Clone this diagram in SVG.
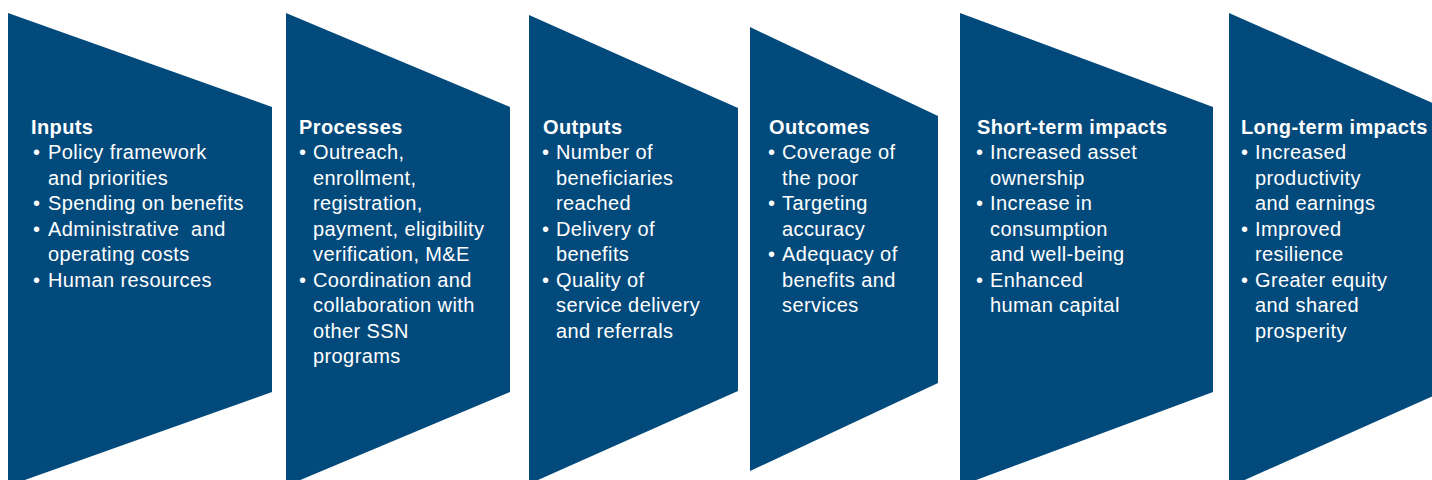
<svg xmlns="http://www.w3.org/2000/svg" width="1432" height="480" viewBox="0 0 1432 480">
<style>
.sh{fill:#034a7c}
text{font-family:"Liberation Sans",Arial,sans-serif;font-size:20px;letter-spacing:0.4px;fill:#ffffff}
.t{font-weight:bold}
</style>
<rect width="1432" height="480" fill="#ffffff"/>
<g id="inputs">
<polygon class="sh" points="8,13 272,107 272,392 8,486"/>
<text class="t" x="31" y="134">Inputs</text>
<text x="33" y="159">•</text><text x="48" y="159">Policy framework</text>
<text x="48" y="184.5">and priorities</text>
<text x="33" y="210">•</text><text x="48" y="210">Spending on benefits</text>
<text x="33" y="235.5">•</text><text x="48" y="235.5" xml:space="preserve">Administrative  and</text>
<text x="48" y="261">operating costs</text>
<text x="33" y="286.5">•</text><text x="48" y="286.5">Human resources</text>
</g>
<g id="processes">
<polygon class="sh" points="286,13 510,107 510,392 286,486"/>
<text class="t" x="299" y="134">Processes</text>
<text x="299" y="159">•</text><text x="313" y="159">Outreach,</text>
<text x="313" y="184.5">enrollment,</text>
<text x="313" y="210">registration,</text>
<text x="313" y="235.5">payment, eligibility</text>
<text x="313" y="261">verification, M&amp;E</text>
<text x="299" y="286.5">•</text><text x="313" y="286.5">Coordination and</text>
<text x="313" y="312">collaboration with</text>
<text x="313" y="337.5">other SSN</text>
<text x="313" y="363">programs</text>
</g>
<g id="outputs">
<polygon class="sh" points="529,15 738,108 738,391 529,484"/>
<text class="t" x="543" y="134">Outputs</text>
<text x="542" y="159">•</text><text x="556" y="159">Number of</text>
<text x="556" y="184.5">beneficiaries</text>
<text x="556" y="210">reached</text>
<text x="542" y="235.5">•</text><text x="556" y="235.5">Delivery of</text>
<text x="556" y="261">benefits</text>
<text x="542" y="286.5">•</text><text x="556" y="286.5">Quality of</text>
<text x="556" y="312">service delivery</text>
<text x="556" y="337.5">and referrals</text>
</g>
<g id="outcomes">
<polygon class="sh" points="750,27 938,116 938,383 750,471"/>
<text class="t" x="769" y="134">Outcomes</text>
<text x="768" y="159">•</text><text x="782" y="159">Coverage of</text>
<text x="782" y="184.5">the poor</text>
<text x="768" y="210">•</text><text x="782" y="210">Targeting</text>
<text x="782" y="235.5">accuracy</text>
<text x="768" y="261">•</text><text x="782" y="261">Adequacy of</text>
<text x="782" y="286.5">benefits and</text>
<text x="782" y="312">services</text>
</g>
<g id="short-term">
<polygon class="sh" points="960,13 1213,107 1213,392 960,486"/>
<text class="t" x="977" y="134">Short-term impacts</text>
<text x="976" y="159">•</text><text x="990" y="159">Increased asset</text>
<text x="990" y="184.5">ownership</text>
<text x="976" y="210">•</text><text x="990" y="210">Increase in</text>
<text x="990" y="235.5">consumption</text>
<text x="990" y="261">and well-being</text>
<text x="976" y="286.5">•</text><text x="990" y="286.5">Enhanced</text>
<text x="990" y="312">human capital</text>
</g>
<g id="long-term">
<polygon class="sh" points="1229,13 1462,116 1462,383 1229,487"/>
<text class="t" x="1241" y="134">Long-term impacts</text>
<text x="1241" y="159">•</text><text x="1255" y="159">Increased</text>
<text x="1255" y="184.5">productivity</text>
<text x="1255" y="210">and earnings</text>
<text x="1241" y="235.5">•</text><text x="1255" y="235.5">Improved</text>
<text x="1255" y="261">resilience</text>
<text x="1241" y="286.5">•</text><text x="1255" y="286.5">Greater equity</text>
<text x="1255" y="312">and shared</text>
<text x="1255" y="337.5">prosperity</text>
</g>
<g id="connectors"/>
</svg>
